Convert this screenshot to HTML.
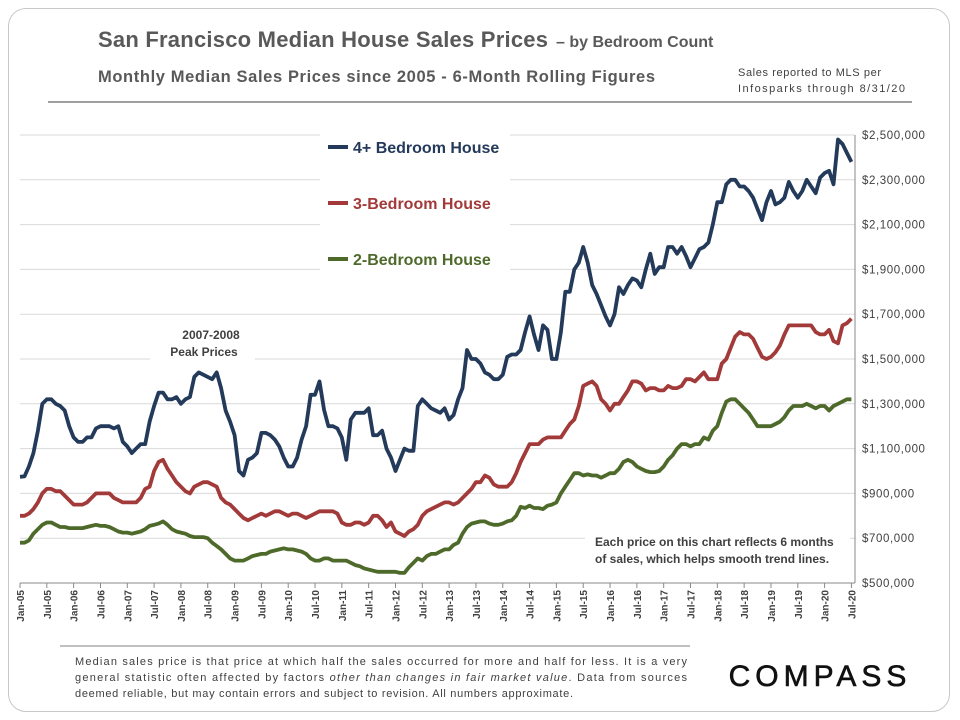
<!DOCTYPE html>
<html><head><meta charset="utf-8"><style>
body{margin:0;background:#fff;font-family:"Liberation Sans",sans-serif}
#card{position:absolute;left:8px;top:8px;width:940px;height:702px;border:1px solid #c8c8c8;border-radius:18px}
</style></head><body>
<div id="card"></div>
<svg id="c" width="960" height="720" style="position:absolute;left:0;top:0">
<text x="98" y="47" font-size="22" font-weight="bold" fill="#595959" textLength="450">San Francisco Median House Sales Prices</text>
<text x="556" y="47" font-size="16" font-weight="bold" fill="#595959">– by Bedroom Count</text>
<text x="98" y="82" font-size="16.5" font-weight="bold" fill="#595959" textLength="557">Monthly  Median  Sales Prices  since  2005 - 6-Month Rolling Figures</text>
<text x="738" y="76" font-size="11" fill="#404040" textLength="143">Sales reported to MLS per</text>
<text x="738" y="92" font-size="11" fill="#404040" textLength="167">Infosparks  through 8/31/20</text>
<line x1="48" y1="102" x2="912" y2="102" stroke="#808080" stroke-width="1.5"/>
<g id="grid"></g><g id="lines"></g><g id="axes"></g>
<rect x="320" y="130" width="190" height="145" fill="#fff"/>
<line x1="328" y1="147" x2="348" y2="147" stroke="#243a5a" stroke-width="4"/>
<text x="353" y="153" font-size="16" font-weight="bold" fill="#243a5a">4+ Bedroom House</text>
<line x1="328" y1="203" x2="348" y2="203" stroke="#a23a3a" stroke-width="4"/>
<text x="353" y="209" font-size="16" font-weight="bold" fill="#a23a3a">3-Bedroom House</text>
<line x1="328" y1="259" x2="348" y2="259" stroke="#4e6a2a" stroke-width="4"/>
<text x="353" y="265" font-size="16" font-weight="bold" fill="#4e6a2a">2-Bedroom House</text>
<rect x="150" y="322" width="105" height="38" fill="#fff"/>
<text x="211" y="339" font-size="12" font-weight="bold" fill="#404040" text-anchor="middle">2007-2008</text>
<text x="204" y="356" font-size="12" font-weight="bold" fill="#404040" text-anchor="middle">Peak Prices</text>
<rect x="585" y="532" width="265" height="38" fill="#fff"/>
<text x="595" y="546" font-size="12" font-weight="bold" fill="#404040">Each price on this chart reflects 6 months</text>
<text x="595" y="563" font-size="12" font-weight="bold" fill="#404040">of sales, which helps smooth trend lines.</text>
<line x1="60" y1="646" x2="690" y2="646" stroke="#808080"/>
<g font-size="11" fill="#404040">
<text x="75" y="665" textLength="612">Median sales price is that price at which half the sales occurred for more and half for less. It is a very</text>
<text x="75" y="681" textLength="612">general statistic often affected by factors <tspan font-style="italic">other than changes in fair market value</tspan>. Data from sources</text>
<text x="75" y="697" textLength="498">deemed reliable, but may contain errors and subject to revision. All numbers approximate.</text>
</g>
<text x="820" y="686" font-size="30" fill="#111" stroke="#111" stroke-width="0.6" text-anchor="middle" letter-spacing="5">COMPASS</text>
</svg>
<script>
const tickLabels=["$500,000","$700,000","$900,000","$1,100,000","$1,300,000","$1,500,000","$1,700,000","$1,900,000","$2,100,000","$2,300,000","$2,500,000"];
const tickValues=[500,700,900,1100,1300,1500,1700,1900,2100,2300,2500];
const xLabels=["Jan-05","Jul-05","Jan-06","Jul-06","Jan-07","Jul-07","Jan-08","Jul-08","Jan-09","Jul-09","Jan-10","Jul-10","Jan-11","Jul-11","Jan-12","Jul-12","Jan-13","Jul-13","Jan-14","Jul-14","Jan-15","Jul-15","Jan-16","Jul-16","Jan-17","Jul-17","Jan-18","Jul-18","Jan-19","Jul-19","Jan-20","Jul-20"];
const br4=[974,976,1020,1080,1180,1300,1320,1320,1300,1290,1270,1200,1150,1130,1130,1150,1150,1190,1200,1200,1200,1190,1200,1130,1110,1080,1100,1120,1120,1220,1290,1350,1350,1320,1320,1330,1300,1320,1330,1420,1440,1430,1420,1410,1440,1370,1270,1220,1160,1000,980,1050,1060,1080,1170,1170,1160,1140,1110,1060,1020,1020,1060,1140,1200,1340,1340,1400,1274,1200,1200,1190,1150,1050,1230,1260,1260,1260,1280,1160,1160,1180,1100,1060,1000,1050,1100,1090,1090,1290,1320,1300,1280,1270,1260,1280,1230,1250,1320,1370,1540,1500,1500,1480,1440,1430,1410,1410,1430,1510,1520,1520,1540,1620,1690,1610,1540,1650,1630,1500,1500,1620,1800,1800,1900,1930,2000,1930,1830,1790,1740,1690,1650,1700,1820,1790,1830,1860,1850,1820,1900,1970,1880,1910,1910,2000,2000,1970,2000,1960,1910,1950,1990,2000,2020,2100,2200,2200,2280,2300,2300,2270,2270,2250,2220,2170,2120,2200,2250,2190,2200,2220,2290,2250,2220,2250,2300,2270,2240,2310,2330,2340,2280,2480,2460,2420,2380];
const br3=[800,800,810,830,860,900,920,920,910,910,890,870,850,850,850,860,880,900,900,900,900,880,870,860,860,860,860,880,920,930,1000,1040,1050,1010,980,950,930,910,900,930,940,950,950,940,930,880,860,850,830,810,790,780,790,800,810,800,810,820,820,810,800,810,810,800,790,800,810,820,820,820,820,810,770,760,760,770,770,760,770,800,800,780,750,770,730,720,710,730,740,760,800,820,830,840,850,860,860,850,860,880,900,920,950,950,980,970,940,930,930,930,950,990,1040,1080,1120,1120,1120,1140,1150,1150,1150,1150,1180,1210,1230,1290,1380,1390,1400,1380,1320,1300,1270,1300,1300,1330,1360,1400,1400,1390,1360,1370,1370,1360,1360,1380,1370,1370,1380,1410,1410,1400,1420,1440,1410,1410,1410,1480,1500,1550,1600,1620,1610,1610,1590,1550,1510,1500,1510,1530,1560,1610,1650,1650,1650,1650,1650,1650,1620,1610,1610,1630,1580,1570,1650,1660,1680];
const br2=[680,680,690,720,740,760,770,770,760,750,750,745,745,745,745,750,755,760,755,755,750,740,730,725,725,720,725,730,740,755,760,765,775,760,740,730,725,720,710,705,705,705,700,680,665,650,630,610,600,600,600,610,620,625,630,630,640,645,650,655,650,650,645,640,630,610,600,600,610,610,600,600,600,600,590,580,575,565,560,555,550,550,550,550,550,545,545,570,590,610,600,620,630,630,640,650,650,670,680,720,750,765,770,775,775,765,760,760,765,775,780,800,840,835,845,835,835,830,845,850,860,900,930,960,990,990,980,985,980,980,970,980,990,990,1010,1040,1050,1040,1020,1010,1000,995,995,1000,1020,1050,1070,1100,1120,1120,1110,1120,1120,1150,1140,1180,1200,1260,1310,1320,1320,1300,1280,1260,1230,1200,1200,1200,1200,1210,1220,1240,1270,1290,1290,1290,1300,1290,1280,1290,1290,1270,1290,1300,1310,1320,1320];
const NS="http://www.w3.org/2000/svg";
const X0=20,PX=4.47,Y0=583,PY=448/2000;
const xs=i=>X0+i*PX, ys=v=>Y0-(v-500)*PY;
const grid=document.getElementById('grid'),axes=document.getElementById('axes'),lines=document.getElementById('lines');
tickValues.forEach((v,i)=>{
 const l=document.createElementNS(NS,'line');
 l.setAttribute('x1',X0);l.setAttribute('x2',855);l.setAttribute('y1',ys(v));l.setAttribute('y2',ys(v));
 l.setAttribute('stroke',i?'#d9d9d9':'#888');
 
 
 grid.appendChild(l);
 const t=document.createElementNS(NS,'text');
 t.setAttribute('x',862);t.setAttribute('y',ys(v)+4);t.setAttribute('font-size','11.5');t.setAttribute('fill','#404040');t.setAttribute('letter-spacing','0.6');
 t.textContent=tickLabels[i];
 
 
 axes.appendChild(t);
});
const ya=document.createElementNS(NS,'line');
ya.setAttribute('x1',855);ya.setAttribute('x2',855);ya.setAttribute('y1',ys(2500));ya.setAttribute('y2',Y0);ya.setAttribute('stroke','#888');


axes.appendChild(ya);
xLabels.forEach((s,i)=>{
 const x=xs(i*6);
 const tk=document.createElementNS(NS,'line');
 tk.setAttribute('x1',x);tk.setAttribute('x2',x);tk.setAttribute('y1',Y0);tk.setAttribute('y2',Y0+5);tk.setAttribute('stroke','#888');
 
 
 axes.appendChild(tk);
 const t=document.createElementNS(NS,'text');
 t.setAttribute('transform',`translate(${x+4},${Y0+7}) rotate(-90)`);
 t.setAttribute('text-anchor','end');t.setAttribute('font-size','10');t.setAttribute('font-weight','bold');t.setAttribute('fill','#404040');
 t.textContent=s;
 
 
 axes.appendChild(t);
});
[[br2,'#4e6a2a','line-2-bedroom'],[br3,'#a23a3a','line-3-bedroom'],[br4,'#243a5a','line-4-bedroom']].forEach(([d,c,n])=>{
 const p=document.createElementNS(NS,'path');
 p.setAttribute('d',d.map((v,i)=>(i?'L':'M')+xs(i).toFixed(1)+','+ys(v).toFixed(1)).join(''));
 p.setAttribute('fill','none');p.setAttribute('stroke',c);p.setAttribute('stroke-width','3.8');p.setAttribute('stroke-linejoin','round');
 
 
 lines.appendChild(p);
});
</script>
</body></html>
